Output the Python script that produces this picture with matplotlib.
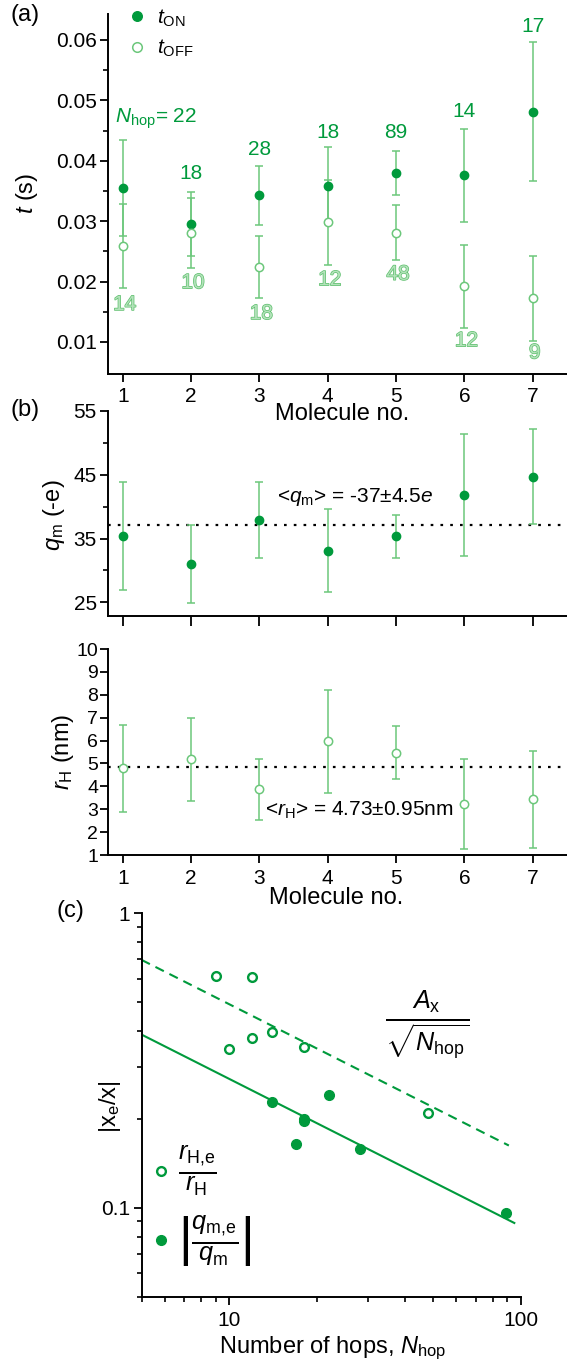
import matplotlib
matplotlib.use('Agg')
import matplotlib.pyplot as plt
import matplotlib.patheffects as pe
from matplotlib.ticker import FixedLocator, FixedFormatter, NullFormatter, LogLocator, FormatStrFormatter
import numpy as np

plt.rcParams['font.family'] = ['Liberation Sans', 'DejaVu Sans']
plt.rcParams['mathtext.fontset'] = 'custom'
plt.rcParams['mathtext.rm'] = 'Liberation Sans'
plt.rcParams['mathtext.it'] = 'Liberation Sans:italic'
plt.rcParams['mathtext.bf'] = 'Liberation Sans:bold'
plt.rcParams['axes.linewidth'] = 1.4

# ---------------- data ----------------
molecules = [1, 2, 3, 4, 5, 6, 7]
t_on = [0.0355, 0.0295, 0.0343, 0.0359, 0.0380, 0.0376, 0.0481]
t_on_err = [0.0079, 0.0053, 0.0049, 0.0064, 0.0036, 0.0077, 0.0115]
t_off = [0.0259, 0.0281, 0.0224, 0.0298, 0.0281, 0.0192, 0.0172]
t_off_err = [0.0069, 0.0058, 0.0052, 0.0071, 0.0046, 0.0069, 0.0070]
n_on = [22, 18, 28, 18, 89, 14, 17]
n_off = [14, 10, 18, 12, 48, 12, 9]
n_on_label_y = [0.0469, 0.0379, 0.0419, 0.0447, 0.0447, 0.0482, 0.0623]
n_off_label_y = [0.0162, 0.0198, 0.0147, 0.0203, 0.0212, 0.0102, 0.0082]

q_m = [35.4, 31.05, 37.9, 33.1, 35.35, 41.85, 44.7]
q_m_err = [8.5, 6.1, 6.0, 6.5, 3.4, 9.55, 7.4]
q_m_line = 37.05

r_h = [4.80, 5.18, 3.87, 5.97, 5.475, 3.225, 3.43]
r_h_err = [1.90, 1.80, 1.34, 2.245, 1.145, 1.965, 2.11]
r_h_line = 4.865

rel_r = [0.396, 0.3475, 0.351, 0.378, 0.2107, 0.606, 0.614]
rel_q = [0.241, 0.197, 0.159, 0.201, 0.0965, 0.2296, 0.1655]
fit_A_r = 1.554
fit_A_q = 0.867
fit_n_r = [5, 91]
fit_n_q = [5, 95]

# ---------------- style ----------------
dark = '#009a3c'
light = '#6cc77b'
label_light_fill = '#b3e2ba'
ts = 15

fig = plt.figure(figsize=(5.67, 13.66), dpi=100)
W, H = 567.0, 1366.0


def axes_px(left, top, right, bottom):
    return fig.add_axes([left / W, 1 - bottom / H, (right - left) / W, (bottom - top) / H])


def style(ax):
    for s in ('top', 'right'):
        ax.spines[s].set_visible(False)
    ax.tick_params(which='major', direction='out', length=6, width=1.3, labelsize=ts, pad=2)
    ax.tick_params(which='minor', direction='out', length=3.5, width=1.2)


xlim = (0.785, 7.502)

# ---------------- panel a ----------------
axa = axes_px(108, 14, 567, 374)
style(axa)
axa.errorbar(molecules, t_on, yerr=t_on_err, fmt='none', ecolor=light, elinewidth=1.1,
             capsize=3, capthick=1.1, zorder=2)
axa.errorbar(molecules, t_off, yerr=t_off_err, fmt='none', ecolor=light, elinewidth=1.1,
             capsize=3, capthick=1.1, zorder=2)
axa.plot(molecules, t_on, 'o', ms=6, mfc=dark, mec=dark, zorder=3, label=r'$t_{\rm ON}$')
axa.plot(molecules, t_off, 'o', ms=6, mfc='white', mec=light, mew=1.1, zorder=4,
         label=r'$t_{\rm OFF}$')
axa.set_xlim(*xlim)
axa.set_ylim(0.0047, 0.0643)
axa.xaxis.set_major_locator(FixedLocator(molecules))
axa.yaxis.set_major_locator(FixedLocator([0.01, 0.02, 0.03, 0.04, 0.05, 0.06]))
axa.yaxis.set_minor_locator(FixedLocator([0.015, 0.025, 0.035, 0.045, 0.055]))
axa.yaxis.set_major_formatter(FormatStrFormatter('%.2f'))
axa.tick_params(axis='x', pad=3)

for i, (m, n, yl) in enumerate(zip(molecules, n_on, n_on_label_y)):
    txt = (r'$N_{\rm hop}$= %d' % n) if i == 0 else str(n)
    xx = m + 0.49 if i == 0 else m
    axa.text(xx, yl, txt, color=dark, fontsize=ts, ha='center', va='center')
for m, n, yl in zip(molecules, n_off, n_off_label_y):
    axa.text(m + 0.03, yl, str(n), color=label_light_fill, fontsize=ts, ha='center', va='center',
             path_effects=[pe.withStroke(linewidth=1.0, foreground='#5cbf6c')])

axa.legend(loc='upper left', bbox_to_anchor=((118.3 - 108) / 459, 1.042), frameon=False,
           fontsize=ts, handlelength=1.0, handletextpad=0.45, labelspacing=0.45,
           borderaxespad=0, markerscale=1.15)

fig.text(342 / W, 1 - 414 / H, 'Molecule no.', ha='center', va='center', fontsize=17,
         zorder=10)
axa.text(-(108 - 27) / 459, (374 - 193) / 360, r'$t$ (s)', transform=axa.transAxes,
         ha='center', va='center', rotation=90, fontsize=17)
fig.text(25 / W, 1 - 15 / H, '(a)', ha='center', va='center', fontsize=17)

# ---------------- panel b (q_m) ----------------
axb = axes_px(108, 411, 567, 616)
style(axb)
axb.patch.set_visible(False)
axb.axhline(q_m_line, color='black', lw=1.6, ls=(0, (1.2, 3.2)), zorder=1)
axb.errorbar(molecules, q_m, yerr=q_m_err, fmt='o', ms=6, mfc=dark, mec=dark, ecolor=light,
             elinewidth=1.1, capsize=3, capthick=1.1, zorder=3)
axb.set_xlim(*xlim)
axb.set_ylim(22.85, 55)
axb.xaxis.set_major_locator(FixedLocator(molecules))
axb.xaxis.set_major_formatter(NullFormatter())
axb.yaxis.set_major_locator(FixedLocator([25, 35, 45, 55]))
axb.yaxis.set_minor_locator(FixedLocator([30, 40, 50]))
axb.tick_params(axis='x', length=7)
axb.text((355 - 108) / 459, (616 - 496.7) / 205, r'<$q_{\rm m}$> = -37±4.5$e$',
         transform=axb.transAxes, ha='center', va='center', fontsize=ts)
axb.text(-(108 - 54) / 459, (616 - 515) / 205, r'$q_{\rm m}$ (-e)', transform=axb.transAxes,
         ha='center', va='center', rotation=90, fontsize=17)
fig.text(25 / W, 1 - 410 / H, '(b)', ha='center', va='center', fontsize=17)

# ---------------- panel b (r_H) ----------------
axr = axes_px(108, 649, 567, 855)
style(axr)
axr.axhline(r_h_line, color='black', lw=1.6, ls=(0, (1.2, 3.2)), zorder=1)
axr.errorbar(molecules, r_h, yerr=r_h_err, fmt='o', ms=6, mfc='white', mec=light, mew=1.1,
             ecolor=light, elinewidth=1.1, capsize=3, capthick=1.1, zorder=3)
axr.set_xlim(*xlim)
axr.set_ylim(1, 10)
axr.xaxis.set_major_locator(FixedLocator(molecules))
axr.yaxis.set_major_locator(FixedLocator(list(range(1, 11))))
axr.tick_params(axis='x', pad=4)
axr.tick_params(axis='y', labelsize=14, pad=1)
axr.text((359 - 108) / 459, (855 - 810) / 206, r'<$r_{\rm H}$> = 4.73±0.95nm',
         transform=axr.transAxes, ha='center', va='center', fontsize=ts)
axr.text(-(108 - 63) / 459, (855 - 751.7) / 206, r'$r_{\rm H}$ (nm)', transform=axr.transAxes,
         ha='center', va='center', rotation=90, fontsize=17)
axr.text((336 - 108) / 459, -(898.4 - 855) / 206, 'Molecule no.', transform=axr.transAxes,
         ha='center', va='center', fontsize=17)

# ---------------- panel c ----------------
axc = axes_px(141.5, 913.3, 520.8, 1296.7)
style(axc)
axc.set_xscale('log')
axc.set_yscale('log')
fit_r_y = [fit_A_r / np.sqrt(n) for n in fit_n_r]
fit_q_y = [fit_A_q / np.sqrt(n) for n in fit_n_q]
axc.plot(fit_n_r, fit_r_y, color=dark, lw=1.5, ls=(0, (4.5, 3)), zorder=1)
axc.plot(fit_n_q, fit_q_y, color=dark, lw=1.5, zorder=1)
axc.plot(n_off, rel_r, 'o', ms=6.3, mfc='white', mec=dark, mew=1.7, zorder=3,
         label=r'$\frac{r_{\rm H{,}e}}{r_{\rm H}}$')
axc.plot(n_on, rel_q, 'o', ms=7, mfc=dark, mec=dark, zorder=3,
         label=r'$\left|\frac{q_{\rm m{,}e}}{q_{\rm m}}\right|$')
axc.set_xlim(5, 100)
axc.set_ylim(0.05, 1)
axc.xaxis.set_major_locator(FixedLocator([10, 100]))
axc.xaxis.set_major_formatter(FixedFormatter(['10', '100']))
axc.yaxis.set_major_locator(FixedLocator([0.1, 1]))
axc.yaxis.set_major_formatter(FixedFormatter(['0.1', '1']))
axc.xaxis.set_minor_locator(LogLocator(base=10, subs=np.arange(2, 10)))
axc.yaxis.set_minor_locator(LogLocator(base=10, subs=np.arange(2, 10)))
axc.xaxis.set_minor_formatter(NullFormatter())
axc.yaxis.set_minor_formatter(NullFormatter())
axc.tick_params(axis='x', pad=4)
axc.legend(loc='upper left', bbox_to_anchor=((150.2 - 141.5) / 379.3, (1296.7 - 1144) / 383.4),
           frameon=False, fontsize=26, handlelength=0.6, handletextpad=0.17, labelspacing=0.42,
           borderaxespad=0, borderpad=0, markerscale=1.0)
axc.text((426.7 - 141.5) / 379.3, (1296.7 - 1025) / 383.4, r'$\frac{A_{\rm x}}{\sqrt{N_{\rm hop}}}$',
         transform=axc.transAxes, ha='center', va='center', fontsize=26)
axc.text(-(141.5 - 110) / 379.3, (1296.7 - 1106.7) / 383.4, r'|x$_{\rm e}$/x|',
         transform=axc.transAxes, ha='center', va='center', rotation=90, fontsize=17)
axc.text((333 - 141.5) / 379.3, -(1348.4 - 1296.7) / 383.4, r'Number of hops, $N_{\rm hop}$',
         transform=axc.transAxes, ha='center', va='center', fontsize=17)
fig.text(70.5 / W, 1 - 911 / H, '(c)', ha='center', va='center', fontsize=17)

fig.savefig('out.png', dpi=100)
